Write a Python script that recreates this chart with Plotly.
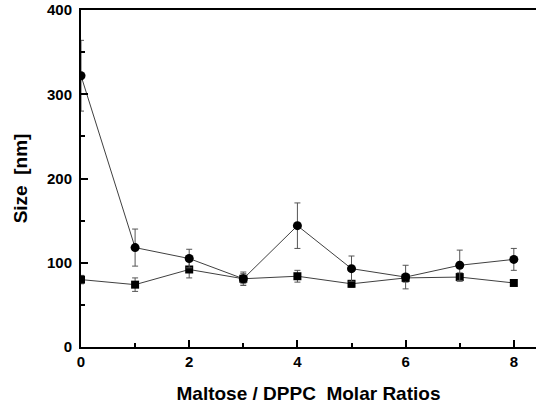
import plotly.graph_objects as go

ratios = [0, 1, 2, 3, 4, 5, 6, 7, 8]
size_circle = [322, 118, 105, 81, 144, 93, 83, 97, 104]
err_circle = [42, 22, 11, 8, 27, 15, 14, 18, 13]
size_square = [80, 74, 92, 81, 84, 75, 82, 83, 76]
err_square = [5, 8, 10, 6, 7, 4, 5, 5, 2]

font_family = "Liberation Sans, Arial, sans-serif"

fig = go.Figure()
for y, e, sym, sz in [(size_square, err_square, "square", 8), (size_circle, err_circle, "circle", 9)]:
    fig.add_trace(go.Scatter(
        x=ratios, y=y, mode="lines+markers",
        line=dict(color="#404040", width=1),
        marker=dict(symbol=sym, size=sz, color="black"),
        error_y=dict(type="data", array=e, visible=True, color="#555555", thickness=1, width=3),
        showlegend=False,
    ))

fig.update_layout(
    width=536, height=410,
    margin=dict(l=81, r=0, t=10, b=63),
    plot_bgcolor="white", paper_bgcolor="white",
    font=dict(family=font_family, color="black"),
)
fig.update_xaxes(
    range=[0, 8.41], tickvals=[0, 2, 4, 6, 8], ticks="inside", ticklen=7, tickwidth=2,
    tickcolor="black",
    minor=dict(tickvals=[1, 3, 5, 7], ticks="inside", ticklen=4, tickwidth=2, tickcolor="black"),
    showline=True, linecolor="black", linewidth=2, mirror=True, showgrid=False, zeroline=False,
    tickfont=dict(size=15, weight="bold"),
    title=dict(text="Maltose / DPPC  Molar Ratios", font=dict(size=19, weight="bold"), standoff=18),
)
fig.update_yaxes(
    range=[0, 400], tickvals=[0, 100, 200, 300, 400], ticks="inside", ticklen=7, tickwidth=2,
    tickcolor="black",
    minor=dict(tickvals=[50, 150, 250, 350], ticks="inside", ticklen=4, tickwidth=2, tickcolor="black"),
    showline=True, linecolor="black", linewidth=2, showgrid=False, zeroline=False,
    tickfont=dict(size=15, weight="bold"), ticklabelstandoff=4,
    title=dict(text="Size  [nm]", font=dict(size=19, weight="bold"), standoff=14),
)

fig.write_html("out.html")
